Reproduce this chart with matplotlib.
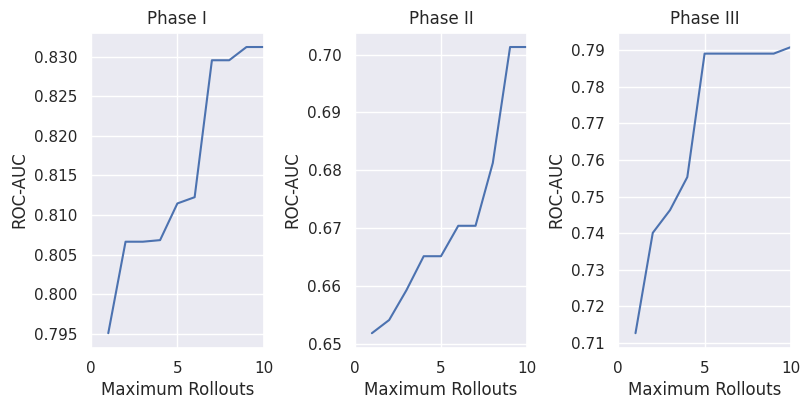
import numpy as np
import matplotlib
matplotlib.use("Agg")
import matplotlib.pyplot as plt
import seaborn as sns

sns.set_theme(style="darkgrid")

rollouts = [1, 2, 3, 4, 5, 6, 7, 8, 9, 10]
phase1_auc = [0.79508, 0.80663, 0.80663, 0.80683, 0.81146, 0.81225,
              0.82954, 0.82954, 0.83121, 0.83121]
phase2_auc = [0.65183, 0.65411, 0.65926, 0.66514, 0.66514, 0.67040,
              0.67040, 0.68126, 0.70131, 0.70131]
phase3_auc = [0.71270, 0.74009, 0.74631, 0.75532, 0.78901, 0.78901,
              0.78901, 0.78901, 0.78901, 0.79081]
titles = ["Phase I", "Phase II", "Phase III"]

fig, axes = plt.subplots(1, 3, figsize=(8.11, 4.11), dpi=100)

for ax, auc, title in zip(axes, [phase1_auc, phase2_auc, phase3_auc], titles):
    ax.plot(rollouts, auc)
    ax.set_xlim(0, 10)
    ax.set_title(title)
    ax.set_xlabel("Maximum Rollouts")
    ax.set_ylabel("ROC-AUC")

fig.subplots_adjust(left=0.1122, right=0.9753, bottom=0.1545, top=0.9204,
                    wspace=0.526)
fig.savefig("out.png", dpi=100)
